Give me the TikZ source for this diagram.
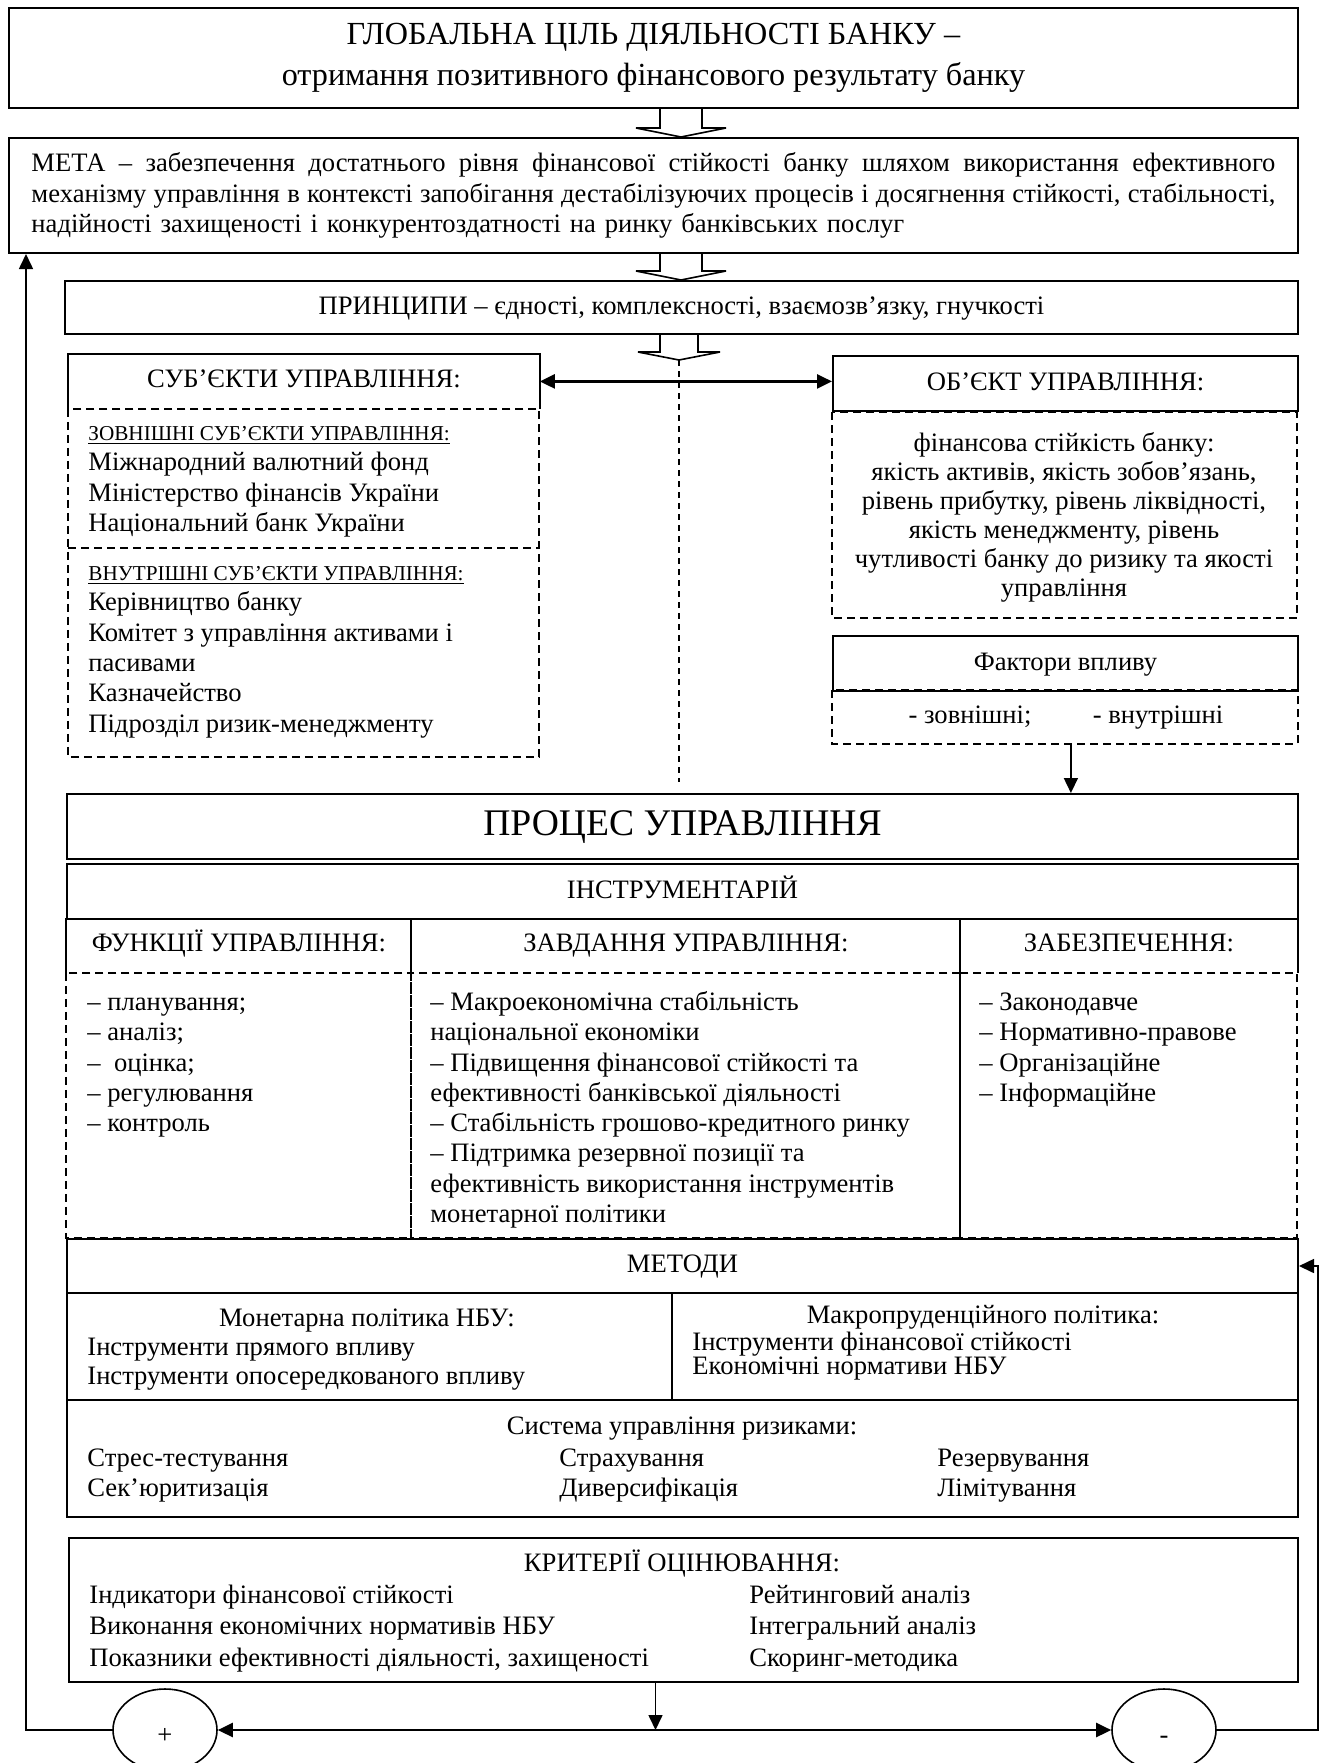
\documentclass[tikz,border=0pt]{standalone}
\usepackage{fontspec}
\setmainfont{Liberation Serif}
\usetikzlibrary{arrows.meta,shapes.geometric}

\newcommand\bodysize{\fontsize{13.3pt}{15.15pt}\selectfont}
\newcommand\goalsize{\fontsize{16.1pt}{20.5pt}\selectfont}
\newcommand\bigsize{\fontsize{18.8pt}{22pt}\selectfont}
\newcommand\headsize{\fontsize{10.6pt}{15.15pt}\selectfont}
\newcommand\fullline[1]{\makebox[622pt][s]{\spaceskip=0pt\xspaceskip=0pt #1}}

\begin{document}
\begin{tikzpicture}[x=1pt,y=-1pt,>={Triangle[length=7.5pt,width=7pt]},
  box/.style={draw,line width=1pt,inner sep=0pt,anchor=north west,font=\bodysize},
  cell/.style={box,text height=9.4pt,text depth=2.9pt},
  plain/.style={inner sep=0pt,anchor=north west,font=\bodysize,text height=9.4pt,text depth=2.9pt},
  listtext/.style={inner sep=0pt,anchor=north west,align=left,font=\bodysize},
  title/.style={inner sep=0pt,font=\bodysize,text height=9.4pt,text depth=2.9pt},
  edge/.style={line width=1pt},
  dashbox/.style={line width=0.9pt,dash pattern=on 4pt off 2.5pt},
  thindash/.style={line width=0.6pt,dash pattern=on 3pt off 2.5pt},
  link/.style={line width=0.8pt},
  hollow/.style={line width=0.8pt},
  sign/.style={draw,ellipse,line width=0.8pt,inner sep=0pt,minimum width=52pt,minimum height=41pt,font=\bodysize,text height=9.4pt,text depth=2.9pt}]
  \useasboundingbox (0,0) rectangle (661.5,881.5);

  \node[box,minimum width=644.5pt,minimum height=50pt,align=center,font=\goalsize] (goal) at (4,3.5) {ГЛОБАЛЬНА ЦІЛЬ ДІЯЛЬНОСТІ БАНКУ –\\отримання позитивного фінансового результату банку};
  \draw[hollow] (330,53.5) -- (330,64) -- (318,64) -- (340.5,68.5) -- (363,64) -- (351,64) -- (351,53.5);
  \node[box,minimum width=644.5pt,minimum height=57.5pt,text width=622pt,align=left] (meta) at (4,68.5) {\fullline{МЕТА – забезпечення достатнього рівня фінансової стійкості банку шляхом використання ефективного}\\\fullline{механізму управління в контексті запобігання дестабілізуючих процесів і досягнення стійкості, стабільності,}\\надійності захищеності і конкурентоздатності на ринку банківських послуг};
  \draw[hollow] (330,126) -- (330,135.5) -- (318,135.5) -- (340.5,140) -- (363,135.5) -- (351,135.5) -- (351,126);
  \node[cell,minimum width=616.5pt,minimum height=26.5pt] (princ) at (32,140) {ПРИНЦИПИ – єдності, комплексності, взаємозв’язку, гнучкості};
  \draw[hollow] (330,166.5) -- (330,176) -- (319,176) -- (339.5,180) -- (360,176) -- (349,176) -- (349,166.5);

  \node[plain,minimum width=235.5pt,minimum height=27pt] (subjhead) at (34,177) {СУБ’ЄКТИ УПРАВЛІННЯ:};
  \draw[edge] (subjhead.south west) -- (subjhead.north west) -- (subjhead.north east) -- (subjhead.south east);
  \draw[dashbox] (subjhead.south west) rectangle (269.5,378.5);
  \draw[dashbox] (34,274) -- (269.5,274);
  \node[listtext] (extsubj) at (44,209.5) {\strut{\headsize\underline{ЗОВНІШНІ СУБ’ЄКТИ УПРАВЛІННЯ:}}\\Міжнародний валютний фонд\\Міністерство фінансів України\\Національний банк України};
  \node[listtext] (intsubj) at (44,279.5) {\strut{\headsize\underline{ВНУТРІШНІ СУБ’ЄКТИ УПРАВЛІННЯ:}}\\Керівництво банку\\Комітет з управління активами і\\пасивами\\Казначейство\\Підрозділ ризик-менеджменту};

  \node[cell,minimum width=232.5pt,minimum height=27.5pt] (objhead) at (416,177.5) {ОБ’ЄКТ УПРАВЛІННЯ:};
  \draw[dashbox] (objhead.south west) rectangle (648.5,309);
  \node[inner sep=0pt,anchor=north,align=center,font={\fontsize{13.3pt}{14.5pt}\selectfont}] (objtext) at (532,215.3) {\strut фінансова стійкість банку:\\якість активів, якість зобов’язань,\\рівень прибутку, рівень ліквідності,\\якість менеджменту, рівень\\чутливості банку до ризику та якості\\управління};
  \node[cell,minimum width=232.5pt,minimum height=27.5pt] (facthead) at (416,317.5) {Фактори впливу};
  \node[plain,minimum width=232.5pt,minimum height=26.5pt] (factbody) at (416,345) {};
  \draw[dashbox] (factbody.north west) rectangle (factbody.south east);
  \node[title] (extf) at (485,358.5) {- зовнішні;};
  \node[title] (intf) at (579,358.5) {- внутрішні};

  \draw[<->,line width=1.2pt] (subjhead.east) -- (subjhead.east -| objhead.west);
  \coordinate (ctop) at (339.5,180);
  \coordinate (cbot) at (339.5,391);
  \draw[thindash] (ctop) -- (cbot);
  \draw[->,link] ([xshift=3pt]factbody.south) -- ([xshift=3pt]factbody.south |- 0,396.5);

  \node[box,minimum width=615.5pt,minimum height=32.5pt,font=\bigsize,text height=13.3pt,text depth=4.1pt] (proc) at (33,396.5) {ПРОЦЕС УПРАВЛІННЯ};
  \node[cell,minimum width=615.5pt,minimum height=27.5pt] (instr) at (33,431.5) {ІНСТРУМЕНТАРІЙ};
  \node[plain,minimum width=172.5pt,minimum height=27pt] (funchead) at (33,459) {ФУНКЦІЇ УПРАВЛІННЯ:};
  \node[plain,minimum width=274.5pt,minimum height=27pt] (taskhead) at (205.5,459) {ЗАВДАННЯ УПРАВЛІННЯ:};
  \node[plain,minimum width=168.5pt,minimum height=27pt] (supphead) at (480,459) {ЗАБЕЗПЕЧЕННЯ:};
  \draw[edge] (funchead.south west) -- (funchead.north west) (taskhead.south west) -- (taskhead.north west)
    (supphead.south west) -- (supphead.north west) (supphead.south east) -- (supphead.north east);
  \draw[dashbox] (funchead.south west) rectangle (205.5,619);
  \draw[dashbox] (taskhead.south west) rectangle (480,619);
  \draw[dashbox] (supphead.south west) rectangle (648.5,619);
  \node[listtext] (funclist) at (43.5,494.4) {\strut– планування;\\– аналіз;\\–\ \ оцінка;\\– регулювання\\– контроль};
  \node[listtext] (tasklist) at (215,494.4) {\strut– Макроекономічна стабільність\\національної економіки\\– Підвищення фінансової стійкості та\\ефективності банківської діяльності\\– Стабільність грошово-кредитного ринку\\– Підтримка резервної позиції та\\ефективність використання інструментів\\монетарної політики};
  \node[listtext] (supplist) at (489.5,494.4) {\strut– Законодавче\\– Нормативно-правове\\– Організаційне\\– Інформаційне};

  \node[cell,minimum width=615.5pt,minimum height=27pt] (meth) at (33,619) {МЕТОДИ};
  \node[box,minimum width=302.5pt,minimum height=53.5pt] (mon) at (33,646) {};
  \node[box,minimum width=313pt,minimum height=53.5pt] (macro) at (335.5,646) {};
  \node[title] (montitle) at (183.5,660) {Монетарна політика НБУ:};
  \node[listtext,font={\fontsize{13.3pt}{14.5pt}\selectfont}] (monlist) at (43.5,667.4) {\strut Інструменти прямого впливу\\Інструменти опосередкованого впливу};
  \node[title] (macrotitle) at (491.5,658.5) {Макропруденційного політика:};
  \node[listtext,font={\fontsize{13.3pt}{12pt}\selectfont\lineskiplimit=-20pt}] (macrolist) at (346,666) {Інструменти фінансової стійкості\\Економічні нормативи НБУ};

  \node[box,minimum width=615.5pt,minimum height=58.5pt] (risk) at (33,699.5) {};
  \node[title] (risktitle) at (341,714) {Система управління ризиками:};
  \node[listtext] (riskcola) at (43.5,722.4) {\strut Стрес-тестування\\Сек’юритизація};
  \node[listtext] (riskcolb) at (279.5,722.4) {\strut Страхування\\Диверсифікація};
  \node[listtext] (riskcolc) at (468.5,722.4) {\strut Резервування\\Лімітування};

  \node[box,minimum width=614.5pt,minimum height=72pt] (crit) at (34,768.5) {};
  \node[title] (crittitle) at (341,782.5) {КРИТЕРІЇ ОЦІНЮВАННЯ:};
  \node[listtext,font={\fontsize{13.3pt}{15.75pt}\selectfont}] (critcola) at (44.5,790.5) {\strut Індикатори фінансової стійкості\\Виконання економічних нормативів НБУ\\Показники ефективності діяльності, захищеності};
  \node[listtext,font={\fontsize{13.3pt}{15.75pt}\selectfont}] (critcolb) at (374.5,790.5) {\strut Рейтинговий аналіз\\Інтегральний аналіз\\Скоринг-методика};

  \node[sign] (plus) at (82.5,865) {\raisebox{-3.5pt}{+}};
  \node[sign] (minus) at (582,865) {\raisebox{-3.5pt}{-}};
  \draw[->,link] ([xshift=-14pt]crit.south) -- ([xshift=-14pt]crit.south |- plus.east);
  \draw[<->,line width=1.2pt] (plus.east) -- (minus.west);
  \coordinate (lfb) at (13,865);
  \coordinate (rfb) at (659,865);
  \draw[->,link] (plus.west) -- (lfb) -- (lfb |- meta.south);
  \draw[->,link] (minus.east) -- (rfb) -- (rfb |- meth.east) -- (meth.east);
\end{tikzpicture}
\end{document}
